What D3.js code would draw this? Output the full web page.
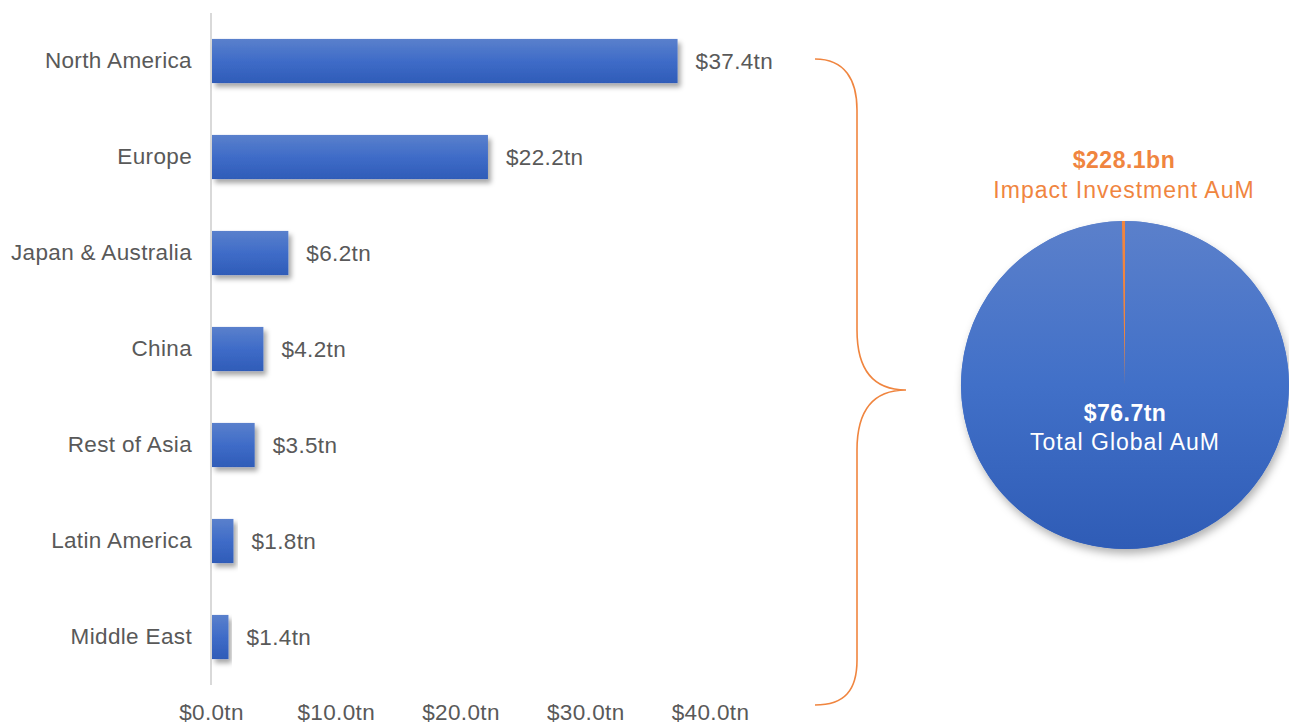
<!DOCTYPE html>
<html>
<head>
<meta charset="utf-8">
<script src="https://cdn.jsdelivr.net/npm/d3@7"></script>
<style>
  html, body { margin: 0; padding: 0; background: #ffffff; }
  svg { display: block; font-family: "Liberation Sans", Arial, sans-serif; }
</style>
</head>
<body>
<svg id="chart" width="1289" height="724"></svg>
<script>
// Regional assets under management, trillions of USD
const regions = ["North America", "Europe", "Japan & Australia", "China", "Rest of Asia", "Latin America", "Middle East"];
const regionAum = [37.4, 22.2, 6.2, 4.2, 3.5, 1.8, 1.4];
const axisTicks = [0, 10, 20, 30, 40];

// Global split, billions of USD
const pieLabels = ["Total Global AuM", "Impact Investment AuM"];
const pieValues = [76700, 228.1];
const pieValueText = ["$76.7tn", "$228.1bn"];

const svg = d3.select("#chart");
const defs = svg.append("defs");

const barGrad = defs.append("linearGradient").attr("id", "barGrad")
  .attr("x1", 0).attr("y1", 0).attr("x2", 0).attr("y2", 1);
barGrad.append("stop").attr("offset", "0%").attr("stop-color", "#5a80cc");
barGrad.append("stop").attr("offset", "50%").attr("stop-color", "#3f6cc8");
barGrad.append("stop").attr("offset", "100%").attr("stop-color", "#2f5cb8");

const pieGrad = defs.append("linearGradient").attr("id", "pieGrad")
  .attr("x1", 0).attr("y1", 0).attr("x2", 0).attr("y2", 1);
pieGrad.append("stop").attr("offset", "0%").attr("stop-color", "#5b80cb");
pieGrad.append("stop").attr("offset", "50%").attr("stop-color", "#4170c8");
pieGrad.append("stop").attr("offset", "100%").attr("stop-color", "#2f5cb6");

const shadow = defs.append("filter").attr("id", "shadow")
  .attr("x", "-10%").attr("y", "-20%").attr("width", "130%").attr("height", "160%");
shadow.append("feDropShadow").attr("dx", 3).attr("dy", 4).attr("stdDeviation", 2.5)
  .attr("flood-color", "#000").attr("flood-opacity", 0.35);

const pieShadow = defs.append("filter").attr("id", "pieShadow")
  .attr("x", "-20%").attr("y", "-20%").attr("width", "140%").attr("height", "140%");
pieShadow.append("feDropShadow").attr("dx", 2).attr("dy", 5).attr("stdDeviation", 4)
  .attr("flood-color", "#000").attr("flood-opacity", 0.3);

// ---- Bar chart ----
const x = d3.scaleLinear().domain([0, 40]).range([211, 710]);
const y = d3.scaleBand().domain(regions).range([13, 685]).paddingInner(0.54).paddingOuter(0.27);
const textColor = "#595959";
const labelSize = 22.5;
const labelSpacing = 0.35;

const xAxis = d3.axisBottom(x).tickValues(axisTicks).tickSize(0)
  .tickFormat(d => "$" + d.toFixed(1) + "tn");
const gx = svg.append("g").attr("transform", "translate(0,701)").call(xAxis);
gx.select(".domain").remove();
gx.selectAll("text").attr("font-size", labelSize).attr("fill", textColor)
  .attr("letter-spacing", labelSpacing)
  .attr("font-family", "Liberation Sans, Arial, sans-serif").attr("dy", "0.71em");

const yAxis = d3.axisLeft(y).tickSize(0).tickPadding(19);
const gy = svg.append("g").attr("transform", `translate(${x(0)},0)`).call(yAxis);
gy.select(".domain").remove();
gy.selectAll("text").attr("font-size", labelSize).attr("fill", textColor)
  .attr("letter-spacing", labelSpacing)
  .attr("font-family", "Liberation Sans, Arial, sans-serif");

svg.append("line")
  .attr("x1", x(0)).attr("x2", x(0)).attr("y1", 13).attr("y2", 685)
  .attr("stroke", "#d9d9d9").attr("stroke-width", 2);

const rows = regions.map((r, i) => ({ region: r, value: regionAum[i] }));

svg.append("g").selectAll("rect").data(rows).join("rect")
  .attr("x", x(0) + 1)
  .attr("y", d => y(d.region))
  .attr("width", d => x(d.value) - x(0) - 1)
  .attr("height", y.bandwidth())
  .attr("fill", "url(#barGrad)")
  .attr("filter", "url(#shadow)");

svg.append("g").selectAll("text").data(rows).join("text")
  .attr("x", d => x(d.value) + 18)
  .attr("y", d => y(d.region) + y.bandwidth() / 2)
  .attr("dy", "0.35em")
  .attr("font-size", labelSize).attr("fill", textColor)
  .attr("letter-spacing", labelSpacing)
  .text(d => "$" + d.value.toFixed(1) + "tn");

// ---- Curly brace ----
const orange = "#f0853f";
const brace = d3.path();
brace.moveTo(815, 59);
brace.bezierCurveTo(845, 59, 857, 80, 857, 110);
brace.lineTo(857, 330);
brace.bezierCurveTo(857, 372, 875, 390, 906, 390);
brace.bezierCurveTo(875, 390, 857, 408, 857, 450);
brace.lineTo(857, 660);
brace.bezierCurveTo(857, 690, 845, 705, 815, 705);
svg.append("path").attr("d", brace.toString())
  .attr("fill", "none").attr("stroke", orange).attr("stroke-width", 1.6);

// ---- Pie ----
const cx = 1125, cy = 385, radius = 164;
const pie = d3.pie().sort(null).value(d => d);
const arcs = pie(pieValues);
const arc = d3.arc().innerRadius(0).outerRadius(radius);

const gp = svg.append("g").attr("transform", `translate(${cx},${cy})`);
gp.append("circle").attr("r", radius).attr("fill", "url(#pieGrad)").attr("filter", "url(#pieShadow)");
gp.selectAll("path").data(arcs).join("path")
  .attr("d", arc)
  .attr("fill", (d, i) => i === 0 ? "url(#pieGrad)" : orange);

// Labels
const pieSize = 23;
gp.append("text").attr("x", 0).attr("y", 36).attr("text-anchor", "middle")
  .attr("font-size", pieSize).attr("font-weight", "bold").attr("fill", "#ffffff")
  .attr("letter-spacing", 0.5)
  .text(pieValueText[0]);
gp.append("text").attr("x", 0).attr("y", 65).attr("text-anchor", "middle")
  .attr("font-size", pieSize).attr("fill", "#ffffff")
  .attr("letter-spacing", 1)
  .text(pieLabels[0]);

svg.append("text").attr("x", cx - 1).attr("y", 168).attr("text-anchor", "middle")
  .attr("font-size", pieSize).attr("font-weight", "bold").attr("fill", orange)
  .attr("letter-spacing", 0.5)
  .text(pieValueText[1]);
svg.append("text").attr("x", cx - 1).attr("y", 198).attr("text-anchor", "middle")
  .attr("font-size", pieSize).attr("fill", orange)
  .attr("letter-spacing", 1)
  .text(pieLabels[1]);
</script>
</body>
</html>
